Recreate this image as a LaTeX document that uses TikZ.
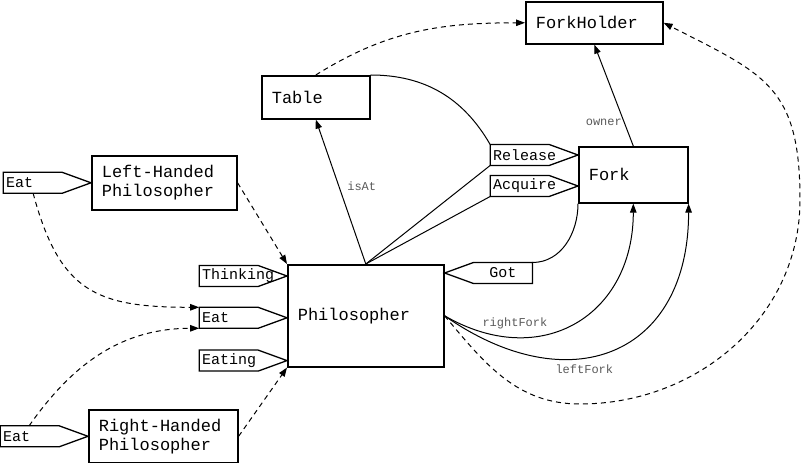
\documentclass[tikz,border=0pt]{standalone}
\usepackage{fontspec}
\usepackage{tikz}
\usetikzlibrary{arrows.meta}
\usetikzlibrary{shapes.symbols}
\newfontfamily\cour{Liberation Mono}
\newcommand{\portl}[1]{\makebox[53pt][l]{#1}}

\begin{document}
\begin{tikzpicture}[x=1pt,y=1pt,line width=1pt,>={Triangle[length=9pt,width=6.5pt]},
  cls/.style 2 args={draw,line width=1.6pt,anchor=north west,align=left,inner xsep=10pt,text width=#1,minimum height=#2,font=\cour\fontsize{17}{19}\selectfont},
  port/.style={draw,line width=1.3pt,signal,signal to=east,signal pointer angle=40,minimum height=21pt,inner xsep=3pt,inner ysep=0pt,outer sep=0pt,font=\cour\fontsize{15}{17}\selectfont},
  lbl/.style={font=\cour\fontsize{12}{14}\selectfont,text=black!65,inner sep=2pt},
  dep/.style={dash pattern=on 5pt off 4pt}]
\useasboundingbox (0,0) rectangle (803,463);

\node[cls={117pt}{42pt}] (holder) at (525,462) {ForkHolder};
\node[cls={88pt}{43pt}] (table) at (261,388) {Table};
\node[cls={89pt}{56pt}] (fork) at (578,317) {Fork};
\node[cls={136pt}{102pt}] (phil) at (287,199) {Philosopher};
\node[cls={125pt}{54pt}] (lefthand) at (91,308) {Left-Handed\\Philosopher};
\node[cls={129pt}{53pt}] (righthand) at (88,54) {Right-Handed\\Philosopher};

\node[port,anchor=east] (release) at ([yshift=-9pt]fork.north west) {\portl{Release}};
\node[port,anchor=east] (acquire) at ([yshift=-40pt]fork.north west) {\portl{Acquire}};
\node[port,signal to=west,anchor=west] (got) at ([yshift=-9pt]phil.north east) {\makebox[53pt][c]{Got}};
\node[port,anchor=east] (think) at ([yshift=-12pt]phil.north west) {\portl{Thinking}};
\node[port,anchor=east] (eatin) at ([yshift=-2pt]phil.west) {\portl{Eat}};
\node[port,anchor=east] (eating) at ([yshift=7pt]phil.south west) {\portl{Eating}};
\node[port,anchor=east] (eatleft) at (lefthand.west) {\portl{Eat}};
\node[port,anchor=east] (eatright) at (righthand.west) {\portl{Eat}};

\coordinate (loopbot) at (580,59);
\coordinate (loopright) at (800,263);

% associations
\draw[->] (fork.north) -- node[lbl,anchor=east,pos=0.23] {owner} (holder.south);
\draw[->] (phil.north) -- node[lbl,anchor=west,pos=0.54,xshift=6pt] {isAt} (table.south);
\draw (table.north east) to[out=0,in=120] (release.north west);
\draw (phil.north) -- (release.south west);
\draw (phil.north) -- (acquire.south west);
\draw (fork.south west) to[out=-90,in=0] (got.north east);
\draw[->] (phil.east) to[out=-30,in=-90,looseness=1.3] node[lbl,pos=0.25,above=6pt] {rightFork} (fork.south);
\draw[->] (phil.east) to[out=-35,in=-90,looseness=1.45] node[lbl,pos=0.4,below=4pt] {leftFork} (fork.south east);

% dependencies
\draw[dep,->] (table.north) to[out=32,in=180] (holder.west);
\draw[dep,->] (phil.east) to[out=-50,in=180] (loopbot) to[out=0,in=-90] (loopright) to[out=90,in=-27,looseness=1.3] (holder.east);
\draw[dep,->] (lefthand.east) -- (phil.north west);
\draw[dep,->] (righthand.east) -- (phil.south west);
\draw[dep,->] ([xshift=30pt]eatleft.south west) to[out=-75,in=180,looseness=1.3] (eatin.north west);
\draw[dep,->] ([xshift=29pt]eatright.north west) to[out=55,in=180] (eatin.south west);
\end{tikzpicture}
\end{document}
